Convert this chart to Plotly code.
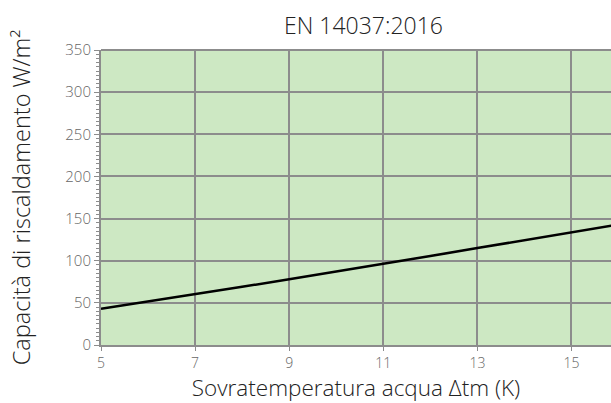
import plotly.graph_objects as go

x_vals = [5, 6, 7, 8, 9, 10, 11, 12, 13, 14, 15, 16]
capacity = [43, 51.5, 60, 69, 78, 87, 96, 105.5, 115, 124.5, 134, 143]
x_ticks = [5, 7, 9, 11, 13, 15]
y_ticks = [0, 50, 100, 150, 200, 250, 300, 350]

fig = go.Figure()
fig.add_trace(go.Scatter(x=x_vals, y=capacity, mode="lines",
                         line=dict(color="black", width=2.5), showlegend=False))

fig.update_layout(
    width=611, height=403,
    margin=dict(l=101, r=0, t=50, b=58),
    paper_bgcolor="white", plot_bgcolor="#cde8c3",
    font=dict(family="Open Sans", color="#222", weight=300),
    title=dict(text="EN 14037:2016", x=0.595, xanchor="center", y=0.935,
               yanchor="middle", font=dict(size=23, color="#222", weight=300)),
)
fig.update_xaxes(
    range=[5, 15.84], tickvals=x_ticks, ticktext=[str(v) for v in x_ticks],
    showgrid=True, gridcolor="#8c8c8c", gridwidth=1.5,
    ticks="outside", ticklen=4, tickcolor="#8c8c8c",
    tickfont=dict(size=14, color="#666", weight=300), zeroline=False,
    showline=True, linecolor="#8c8c8c", linewidth=2, mirror=False,
    title=dict(text="Sovratemperatura acqua Δtm (K)", font=dict(size=22.5, color="#222", weight=300), standoff=5),
)
fig.update_yaxes(
    range=[0, 350], tickvals=y_ticks, showgrid=True, gridcolor="#8c8c8c", gridwidth=1.5,
    ticks="outside", ticklen=5, tickcolor="#8c8c8c",
    minor=dict(dtick=5, ticks="outside", ticklen=3, tickcolor="#8c8c8c", showgrid=False),
    tickfont=dict(size=15, color="#666", weight=300), zeroline=False,
    showline=True, linecolor="#8c8c8c", linewidth=2,
    title=dict(text="Capacità di riscaldamento W/m²", font=dict(size=23.5, color="#222", weight=300), standoff=28),
)
fig.add_shape(type="line", xref="paper", yref="paper", x0=0, x1=1, y0=1, y1=1,
              line=dict(color="#8c8c8c", width=2))
fig.write_html("out.html", config={"displayModeBar": False},
               post_script="document.body.style.margin='0px';document.body.style.overflow='hidden';")
